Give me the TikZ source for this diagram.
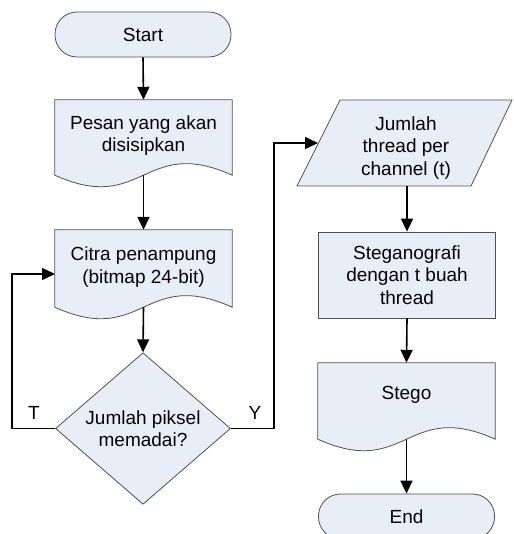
\documentclass[tikz,border=0pt]{standalone}
\usepackage{fontspec}
\setmainfont{Liberation Sans}
\usetikzlibrary{arrows.meta,shapes.geometric,calc}
\definecolor{boxfill}{RGB}{232,238,247}
\definecolor{boxline}{RGB}{80,80,80}
\begin{document}
\begin{tikzpicture}[x=1pt,y=-1pt,
  txt/.style={font=\fontsize{19}{22.5}\selectfont, align=center, inner sep=0pt},
  shapeline/.style={draw=boxline, line width=0.8pt, fill=boxfill},
  term/.style={shapeline, rectangle, rounded corners=22pt, minimum width=176pt, minimum height=45pt, inner sep=0pt, txt},
  proc/.style={shapeline, rectangle, minimum width=177pt, minimum height=86pt, inner sep=0pt, txt},
  decision/.style={shapeline, diamond, minimum width=175pt, minimum height=131pt, inner sep=0pt, txt},
  docframe/.style={rectangle, minimum width=177pt, inner sep=0pt},
  docpath/.style={shapeline},
  conn/.style={draw=black, line width=1.6pt, -{Triangle[length=13pt,width=12pt]}},
  lab/.style={font=\fontsize{19}{22.5}\selectfont, inner sep=0pt}
]
\useasboundingbox (0,0) rectangle (513,534);

% Start
\node[term] (start) at (143,34.5) {Start};

% Pesan (document)
\node[docframe, minimum height=75pt] (pesan) at (143.5,137.5) {};
\path[docpath] (pesan.south east) -- (pesan.north east) -- (pesan.north west) -- (pesan.south west)
  .. controls ($(pesan.south)+(0,40)$) and ($(pesan.south)+(0,-40)$) .. (pesan.south east) -- cycle;
\node[txt] (pesanT) at (143.5,135.5) {Pesan yang akan\\disisipkan};

% Citra (document)
\node[docframe, minimum height=77pt] (citra) at (143.5,268.5) {};
\path[docpath] (citra.south east) -- (citra.north east) -- (citra.north west) -- (citra.south west)
  .. controls ($(citra.south)+(0,40)$) and ($(citra.south)+(0,-40)$) .. (citra.south east) -- cycle;
\node[txt] (citraT) at (143.5,267) {Citra penampung\\(bitmap 24-bit)};
\coordinate (citraL) at (55,274);

% Decision
\node[decision] (dec) at (143,428.5) {Jumlah piksel\\memadai?};

% Parallelogram
\path[shapeline] (297,186) -- (340,100) -- (512,100) -- (471,186) -- cycle;
\node[txt] (para) at (406,148) {Jumlah\\thread per\\channel (t)};
\coordinate (paraL) at (318,143);
\coordinate (paraB) at (407,186);

% Steganografi process
\node[proc] (steg) at (407,275) {Steganografi\\dengan t buah\\thread};

% Stego (document)
\node[docframe, minimum height=76pt] (stego) at (406.5,401) {};
\path[docpath] (stego.south east) -- (stego.north east) -- (stego.north west) -- (stego.south west)
  .. controls ($(stego.south)+(0,40)$) and ($(stego.south)+(0,-40)$) .. (stego.south east) -- cycle;
\node[txt] (stegoT) at (406.5,395) {Stego};

% End
\node[term] (end) at (406.5,516.5) {End};

% Connectors
\draw[conn] (start.south) -- (pesan.north);
\draw[conn] (pesan.south) -- (citra.north);
\draw[conn] (citra.south) -- (dec.north);
\coordinate (tcorner) at (12,428.5);
\coordinate (ycorner) at (274,428.5);
\draw[conn] (dec.west) -- (tcorner) |- (citraL);
\draw[conn] (dec.east) -- (ycorner) |- (paraL);
\draw[conn] (paraB) -- (paraB |- steg.north);
\draw[conn] (steg.south) -- (stego.north);
\draw[conn] (stego.south) -- (end.north);

% Labels
\node[lab] (tlab) at (34,413) {T};
\node[lab] (ylab) at (255,413) {Y};
\end{tikzpicture}
\end{document}
